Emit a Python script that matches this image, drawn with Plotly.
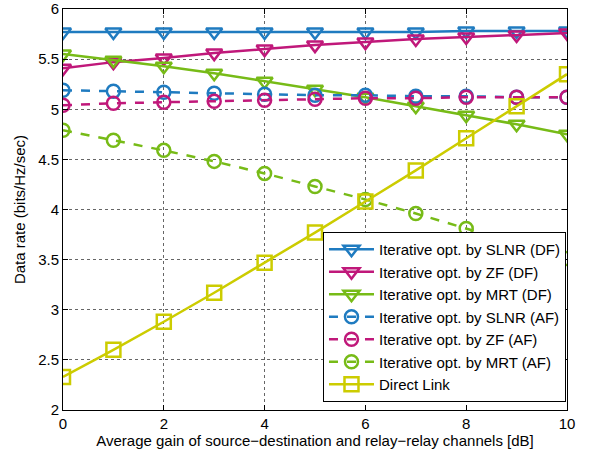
import plotly.graph_objects as go

x_db = [0, 1, 2, 3, 4, 5, 6, 7, 8, 9, 10]
slnr_df = [5.77, 5.77, 5.77, 5.77, 5.77, 5.77, 5.77, 5.77, 5.78, 5.78, 5.78]
zf_df = [5.41, 5.47, 5.51, 5.56, 5.60, 5.64, 5.67, 5.70, 5.72, 5.74, 5.76]
mrt_df = [5.55, 5.49, 5.43, 5.36, 5.28, 5.20, 5.12, 5.03, 4.94, 4.85, 4.75]
slnr_af = [5.19, 5.18, 5.17, 5.16, 5.15, 5.14, 5.14, 5.13, 5.13, 5.12, 5.12]
zf_af = [5.04, 5.06, 5.07, 5.08, 5.09, 5.10, 5.11, 5.11, 5.12, 5.12, 5.12]
mrt_af = [4.79, 4.69, 4.59, 4.48, 4.36, 4.23, 4.10, 3.96, 3.81, 3.66, 3.51]
direct = [2.33, 2.60, 2.88, 3.17, 3.47, 3.77, 4.08, 4.39, 4.71, 5.03, 5.35]

names = ["Iterative opt. by SLNR (DF)", "Iterative opt. by ZF (DF)", "Iterative opt. by MRT (DF)",
         "Iterative opt. by SLNR (AF)", "Iterative opt. by ZF (AF)", "Iterative opt. by MRT (AF)",
         "Direct Link"]
series = [slnr_df, zf_df, mrt_df, slnr_af, zf_af, mrt_af, direct]

BLUE = "#1f7bc0"
MAG = "#c0187a"
GREEN = "#77bb17"
YEL = "#cccc00"
colors = [BLUE, MAG, GREEN, BLUE, MAG, GREEN, YEL]
dashes = ["solid", "solid", "solid", "dash", "dash", "dash", "solid"]
symbols = ["triangle-down-open"] * 3 + ["circle-open"] * 3 + ["square-open"]

fig = go.Figure()
for n, s, c, d, m in zip(names, series, colors, dashes, symbols):
    fig.add_trace(go.Scatter(
        x=x_db, y=s, name=n, mode="lines+markers",
        line=dict(color=c, width=2.5, dash=d),
        marker=dict(symbol=m, size=14 if "circle" not in m else 13,
                    line=dict(color=c, width=2.5)),
    ))

axis_common = dict(
    showline=True, linecolor="black", linewidth=1, mirror="ticks",
    ticks="inside", ticklen=5, tickcolor="black",
    showgrid=True, gridcolor="rgba(0,0,0,0.6)", griddash="dot", gridwidth=1,
    zeroline=False, tickfont=dict(size=15, color="black"), automargin=False,
    ticklabeloverflow="allow",
)

fig.update_layout(
    width=597, height=455,
    margin=dict(l=63, r=30, t=9, b=45),
    paper_bgcolor="white", plot_bgcolor="white",
    font=dict(family="Liberation Sans, Arial, sans-serif", color="black", size=15),
    xaxis=dict(range=[0, 10], dtick=2, title=dict(
        text="Average gain of source\u2212destination and relay\u2212relay channels [dB]",
        font=dict(size=15), standoff=2), **axis_common),
    yaxis=dict(range=[2, 6], dtick=0.5, title=dict(
        text="Data rate (bits/Hz/sec)", font=dict(size=15), standoff=8), **axis_common),
    legend=dict(x=0.998, y=0.02, xanchor="right", yanchor="bottom",
                bgcolor="white", bordercolor="black", borderwidth=1,
                font=dict(size=15), itemwidth=45, tracegroupgap=0,
                traceorder="normal"),
    showlegend=True,
)

fig.write_html("out.html", config={"displayModeBar": False},
               post_script="document.body.style.margin='0';document.body.style.overflow='hidden';")
